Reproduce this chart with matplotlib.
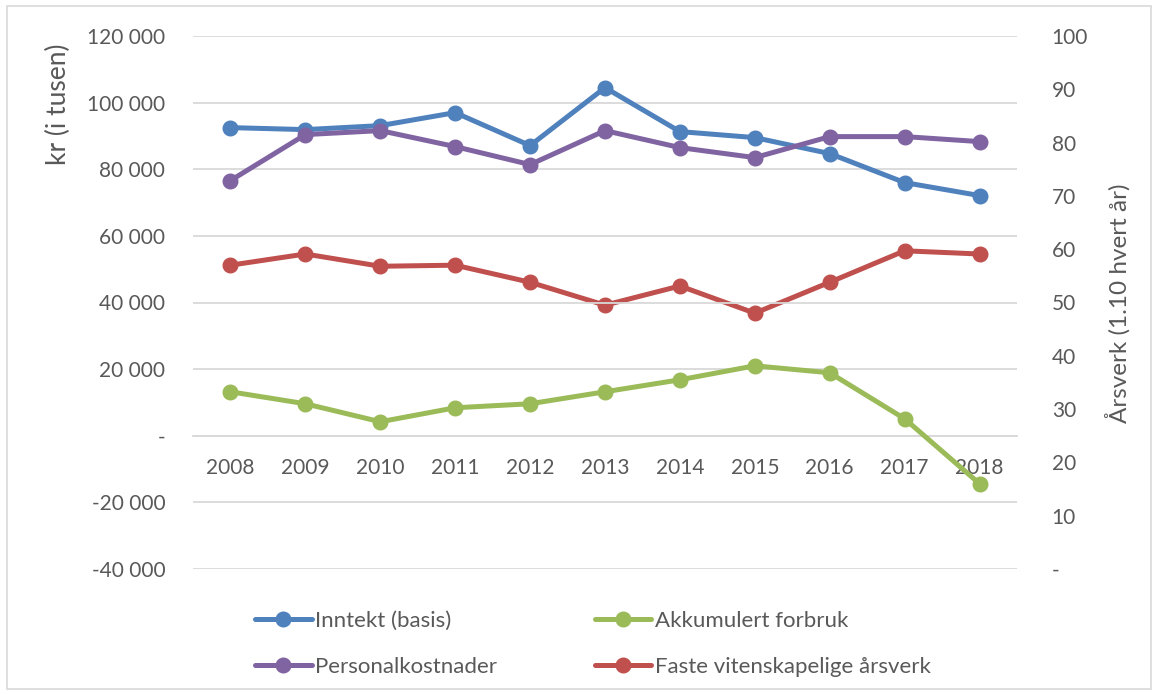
import matplotlib
matplotlib.use("Agg")
import matplotlib.pyplot as plt
from matplotlib.ticker import FuncFormatter, FixedLocator
from matplotlib.patches import Rectangle

years = [2008, 2009, 2010, 2011, 2012, 2013, 2014, 2015, 2016, 2017, 2018]
inntekt = [92500, 91900, 93100, 97000, 87100, 104500, 91300, 89500, 84700, 76000, 72100]
personal = [76600, 90400, 91600, 86800, 81400, 91600, 86500, 83500, 89800, 89800, 88300]
akkumulert = [13200, 9600, 4200, 8400, 9600, 13200, 16800, 21000, 18900, 5100, -14400]
arsverk = [57.0, 59.1, 56.8, 57.0, 53.8, 49.5, 53.1, 48.0, 53.8, 59.7, 59.1]

labels = ["Inntekt (basis)", "Akkumulert forbruk", "Personalkostnader", "Faste vitenskapelige årsverk"]
colors = {"blue": "#4f81bd", "green": "#9bbb59", "purple": "#8064a2", "red": "#c0504d"}

plt.rcParams['font.family'] = ['Lato', 'DejaVu Sans']
txt = "#595959"
FS = 15

fig = plt.figure(figsize=(11.58, 6.95), dpi=100)
ax = fig.add_axes([193/1158, 1-569/695, (1017-193)/1158, (569-36)/695])
ax2 = ax.twinx()

kw = dict(lw=3.6, marker='o', ms=10.5, solid_capstyle='round')
l1, = ax.plot(years, inntekt, color=colors["blue"], label=labels[0], zorder=3, **kw)
l2, = ax.plot(years, akkumulert, color=colors["green"], label=labels[1], zorder=3, **kw)
l3, = ax.plot(years, personal, color=colors["purple"], label=labels[2], zorder=3, **kw)
l4, = ax2.plot(years, arsverk, color=colors["red"], label=labels[3], zorder=3, **kw)

ax.set_xlim(2007.5, 2018.5)
ax.set_ylim(-40000, 120000)
ax2.set_ylim(0, 100)
ax.yaxis.set_major_locator(FixedLocator(range(-40000, 120001, 20000)))
ax2.yaxis.set_major_locator(FixedLocator(range(0, 101, 10)))

def lfmt(v, p):
    if v == 0:
        return "-"
    s = f"{abs(int(v)):,}".replace(",", " ")
    return ("-" if v < 0 else "") + s

def rfmt(v, p):
    if v == 0:
        return "-"
    return f"{int(v)}"

ax.yaxis.set_major_formatter(FuncFormatter(lfmt))
ax2.yaxis.set_major_formatter(FuncFormatter(rfmt))

ax.set_xticks(years)
ax.set_xticklabels([str(y) for y in years])

ax.grid(axis='y', color='#d9d9d9', lw=1.3, zorder=0)
ax.set_axisbelow(True)
for a in (ax, ax2):
    for s in a.spines.values():
        s.set_visible(False)
ax.spines['bottom'].set_visible(True)
ax.spines['bottom'].set_position(('data', 0))
ax.spines['bottom'].set_color('#d9d9d9')
ax.spines['bottom'].set_linewidth(1.3)

ax.tick_params(axis='y', length=0, pad=20, labelsize=FS, labelcolor=txt)
ax2.tick_params(axis='y', length=0, pad=25, labelsize=FS, labelcolor=txt)
ax.tick_params(axis='x', length=0, pad=16, labelsize=FS, labelcolor=txt)

ax.set_ylabel("kr (i tusen)", fontsize=19, color=txt)
ax.yaxis.set_label_coords((71-193)/824, 1-(104-36)/533)
ax2.set_ylabel("Årsverk (1.10 hvert år)", fontsize=17.5, color=txt)
ax2.yaxis.set_label_coords((1105-193)/824, 1-(303-36)/533)

ax.set_zorder(ax2.get_zorder() + 1)
ax.patch.set_visible(False)

fig.legend(handles=[l1, l3, l2, l4], ncol=2, loc='upper left',
           bbox_to_anchor=(255/1158, 1-611/695), frameon=False,
           fontsize=16, labelcolor=txt, handlelength=2.55, handletextpad=0.15,
           columnspacing=4.4, labelspacing=1.15, borderpad=0, borderaxespad=0,
           markerscale=1.0)

fig.patches.append(Rectangle((7/1158, 1-689/695), (1151-7)/1158, (689-6)/695,
                             transform=fig.transFigure, fill=False,
                             edgecolor='#d9d9d9', lw=1.2))

fig.savefig("out.png", dpi=100)
